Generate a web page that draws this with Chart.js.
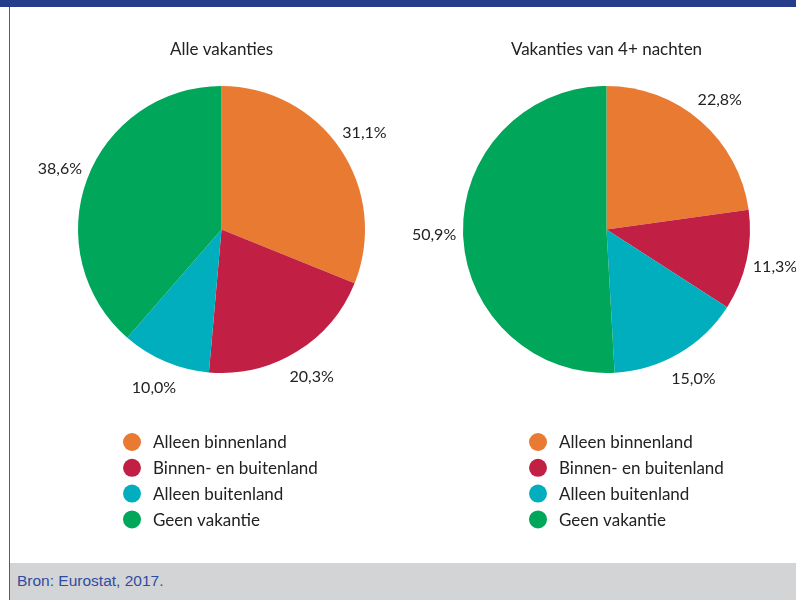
<!DOCTYPE html>
<html>
<head>
<meta charset="utf-8">
<script src="https://cdn.jsdelivr.net/npm/chart.js@4.4.1/dist/chart.umd.min.js"></script>
<style>
  html, body { margin: 0; padding: 0; background: #ffffff; }
  #page { position: relative; width: 796px; height: 600px; overflow: hidden; background: #ffffff; }
  #topbar { position: absolute; left: 0; top: 0; width: 796px; height: 7px; background: #243E8C; }
  #leftline { position: absolute; left: 9px; top: 7px; width: 1px; height: 593px; background: #4A58A4; }
  #footer { position: absolute; left: 10px; top: 563px; width: 786px; height: 37px; background: #D3D4D6; }
  #source { position: absolute; left: 7px; top: 9px; font-family: "Liberation Sans", Arial, sans-serif; font-size: 15.5px; color: #2F4C9E; white-space: nowrap; }
  canvas { position: absolute; left: 0; top: 0; }
</style>
</head>
<body>
<div id="page">
  <div id="topbar"></div>
  <div id="footer"><div id="source">Bron: Eurostat, 2017.</div></div>
  <div id="leftline"></div>
  <canvas id="c1" width="796" height="563"></canvas>
  <canvas id="c2" width="796" height="563"></canvas>
</div>
<script>
// ---- data ----
const categories = ['Alleen binnenland', 'Binnen- en buitenland', 'Alleen buitenland', 'Geen vakantie'];
const chartTitles = ['Alle vakanties', 'Vakanties van 4+ nachten'];
const allHolidays = [31.1, 20.3, 10.0, 38.6];
const longHolidays = [22.8, 11.3, 15.0, 50.9];
const sliceColors = ['#E87A31', '#C21F45', '#00AEBE', '#00A65A'];

const W = 796, H = 563;
const FONT = 'Lato, "Open Sans", sans-serif';

const piePlugin = {
  id: 'piePlugin',
  afterDatasetsDraw(chart, args, opts) {
    const ctx = chart.ctx;
    const meta = chart.getDatasetMeta(0);
    const values = chart.data.datasets[0].data;
    ctx.save();
    ctx.fillStyle = '#222222';
    ctx.font = '16px ' + FONT;
    ctx.textAlign = 'center';
    ctx.textBaseline = 'middle';
    meta.data.forEach((arc, i) => {
      const p = arc.getProps(['x', 'y', 'startAngle', 'endAngle', 'outerRadius'], true);
      const mid = (p.startAngle + p.endAngle) / 2;
      const d = p.outerRadius + opts.labelGap;
      const lx = p.x + Math.cos(mid) * d;
      const ly = p.y + Math.sin(mid) * d;
      ctx.fillText(values[i].toFixed(1).replace('.', ',') + '%', lx, ly);
    });
    // title
    ctx.font = '17px ' + FONT;
    const first = meta.data[0].getProps(['x', 'y', 'outerRadius'], true);
    ctx.fillText(opts.title, first.x, first.y - first.outerRadius - 36);
    // legend
    ctx.textAlign = 'left';
    chart.data.labels.forEach((lab, i) => {
      const y = opts.legendY + i * opts.legendStep;
      ctx.beginPath();
      ctx.fillStyle = chart.data.datasets[0].backgroundColor[i];
      ctx.arc(opts.legendX + 9, y, 9, 0, Math.PI * 2);
      ctx.fill();
      ctx.fillStyle = '#222222';
      ctx.fillText(lab, opts.legendX + 30, y + 1);
    });
    ctx.restore();
  }
};

function makePie(canvasId, values, title, cx, cy, R, legendX) {
  return new Chart(document.getElementById(canvasId), {
    type: 'pie',
    data: {
      labels: categories,
      datasets: [{
        data: values,
        backgroundColor: sliceColors,
        borderColor: '#ffffff',
        borderWidth: 0
      }]
    },
    options: {
      responsive: false,
      animation: false,
      events: [],
      layout: {
        padding: { left: cx - R, right: W - cx - R, top: cy - R, bottom: H - cy - R }
      },
      plugins: {
        legend: { display: false },
        tooltip: { enabled: false },
        title: { display: false },
        piePlugin: { title: title, labelGap: 29, legendX: legendX, legendY: 442, legendStep: 25.8 }
      }
    },
    plugins: [piePlugin]
  });
}

makePie('c1', allHolidays, chartTitles[0], 221.5, 229.5, 143.5, 123);
makePie('c2', longHolidays, chartTitles[1], 606.5, 229.5, 143.5, 529);
</script>
</body>
</html>
